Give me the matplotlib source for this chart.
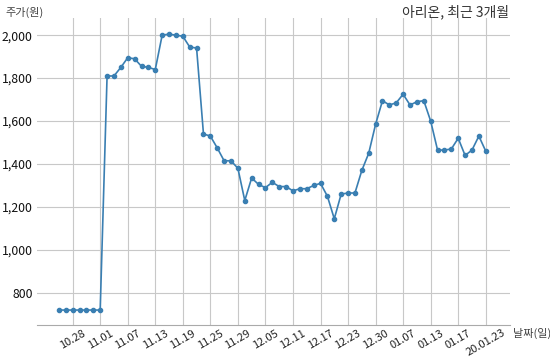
import matplotlib
matplotlib.use('Agg')
import matplotlib.pyplot as plt

plt.rcParams['font.family'] = ['Noto Sans CJK KR', 'DejaVu Sans']

dates = ['10.24', '10.25', '10.28', '10.29', '10.30', '10.31', '11.01',
         '11.04', '11.05', '11.06', '11.07', '11.08', '11.11', '11.12', '11.13',
         '11.14', '11.15', '11.18', '11.19', '11.20', '11.21',
         '11.22', '11.25', '11.26', '11.27', '11.28', '11.29',
         '12.02', '12.03', '12.04', '12.05', '12.06', '12.09', '12.10', '12.11',
         '12.12', '12.13', '12.16', '12.17', '12.18', '12.19', '12.20', '12.23', '12.24',
         '12.26', '12.27', '12.30', '01.02', '01.03', '01.06', '01.07', '01.08',
         '01.09', '01.10', '01.13', '01.14', '01.15', '01.16', '01.17', '01.20',
         '01.21', '01.22', '20.01.23']
prices = [720, 720, 720, 720, 720, 720, 720,
          1810, 1810, 1850, 1895, 1890, 1855, 1850, 1840,
          2000, 2005, 2000, 1995, 1945, 1940,
          1540, 1530, 1475, 1415, 1415, 1380,
          1230, 1335, 1305, 1290, 1315, 1295, 1295, 1275,
          1285, 1285, 1300, 1310, 1250, 1145, 1260, 1265, 1265,
          1370, 1450, 1585, 1695, 1675, 1685, 1725, 1675,
          1690, 1695, 1600, 1465, 1465, 1470, 1520, 1440,
          1465, 1530, 1460]
yticks = [800, 1000, 1200, 1400, 1600, 1800, 2000]

x = list(range(len(prices)))
tick_idx = list(range(2, len(prices), 4))

fig = plt.figure(figsize=(5.5, 3.6), dpi=100)
ax = fig.add_axes([0.067, 0.097, 0.86, 0.853])

ax.plot(x, prices, color='#3a7fb2', linewidth=1.2, marker='o', markersize=3)

ax.set_xlim(-3.2, 65.5)
ax.set_ylim(650, 2080)
ax.set_yticks(yticks)
ax.set_yticklabels([f'{v:,}' for v in yticks], fontsize=8.8, color='#111111')
ax.set_xticks(tick_idx)
ax.set_xticklabels([dates[i] for i in tick_idx], rotation=30, fontsize=8,
                   color='#222222', ha='center')
ax.tick_params(axis='y', length=0, pad=3)
ax.tick_params(axis='x', length=0, pad=2)

ax.grid(True, color='#c8c8c8', linewidth=0.8)
ax.set_axisbelow(True)
for s in ['left', 'top', 'right']:
    ax.spines[s].set_visible(False)
ax.spines['bottom'].set_color('#aaaaaa')

fig.text(0.01, 0.955, '주가(원)', fontsize=8, color='#444444')
fig.text(0.925, 0.955, '아리온, 최근 3개월', fontsize=10, color='#333333', ha='right')
fig.text(0.932, 0.065, '날짜(일)', fontsize=8, color='#444444')

fig.savefig('out.png', dpi=100)
